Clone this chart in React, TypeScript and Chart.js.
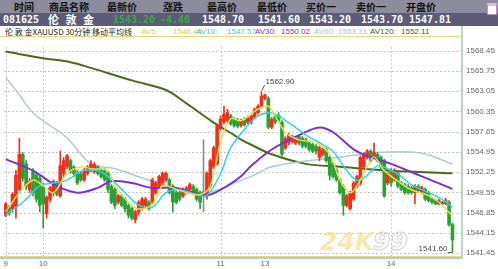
import React, { useEffect, useRef } from "react";
import { Chart, registerables } from "chart.js";

Chart.register(...registerables);

const SLOTS = 134;
const dayIndex = [0, 11, 63, 76, 113];
const dayText = ["9", "10", "11", "13", "14"];
const dayGrid = [0, 11, 63, 113];
const priceTicks = [1541.45, 1544.15, 1546.85, 1549.55, 1552.25, 1554.95, 1557.65, 1560.35, 1563.05, 1565.75, 1568.45];

const headTitles = ["时间", "商品名称", "最新价", "涨跌", "最高价", "最低价", "买价一", "卖价一", "开盘价"];
const headValues = ["081625", "伦 敦 金", "1543.20", "-4.40", "1548.70", "1541.60", "1543.20", "1543.70", "1547.81"];
const legendName = "伦 敦 金XAUUSD 30分钟 移动平均线";
const maNames = ["AV5:", "AV10:", "AV30:", "AV60:", "AV120:"];
const maLast = ["1546.40", "1547.57", "1550.02", "1553.31", "1552.11"];

const opens = [
  1546.53, 1547.60, 1547.38, 1547.60, 1549.94, 1554.63, 1553.36, 1549.94, 1552.29, 1551.86,
  1551.44, 1550.37, 1546.74, 1548.66, 1549.52, 1550.80, 1549.09, 1552.08, 1552.93, 1553.78,
  1552.93, 1552.08, 1551.99, 1551.22, 1552.08, 1552.50, 1552.29, 1552.93, 1552.50, 1552.42,
  1552.08, 1550.37, 1549.94, 1548.24, 1549.09, 1548.66, 1547.81, 1547.38, 1545.89, 1546.96,
  1547.38, 1547.81, 1548.24, 1548.24, 1549.52, 1550.37, 1550.80, 1551.22, 1551.22, 1550.37,
  1549.52, 1549.52, 1549.09, 1549.52, 1549.94, 1550.37, 1549.94, 1549.52, 1549.52, 1549.09,
  1550.37, 1552.93, 1553.36, 1558.05, 1558.90, 1559.11, 1559.75, 1559.33, 1559.24, 1558.47,
  1559.24, 1558.90, 1558.90, 1559.54, 1560.18, 1561.03, 1562.10, 1562.10, 1558.26, 1559.75,
  1559.84, 1558.90, 1555.49, 1556.13, 1556.34, 1556.13, 1556.98, 1556.77, 1556.55, 1556.13,
  1555.91, 1555.70, 1554.21, 1554.63, 1555.27, 1554.21, 1553.36, 1552.50, 1551.22, 1550.37,
  1547.81, 1547.38, 1548.66, 1550.37, 1550.80, 1552.93, 1554.21, 1555.06, 1554.21, 1554.63,
  1554.21, 1553.78, 1550.80, 1552.50, 1551.22, 1552.08, 1550.80, 1550.58, 1550.37, 1550.16,
  1549.52, 1550.37, 1549.52, 1549.94, 1549.52, 1548.66, 1548.45, 1548.02, 1548.24, 1548.02,
  1548.24, 1545.25,
];
const highs = [
  1548.24, 1547.81, 1549.52, 1552.50, 1556.77, 1554.85, 1553.78, 1551.44, 1552.72, 1552.08,
  1551.86, 1550.80, 1549.09, 1550.37, 1551.22, 1551.01, 1555.06, 1554.21, 1554.63, 1554.00,
  1553.14, 1552.50, 1552.29, 1552.72, 1553.14, 1553.78, 1553.57, 1553.14, 1552.72, 1552.72,
  1552.29, 1550.58, 1550.16, 1549.30, 1549.30, 1548.88, 1548.02, 1547.60, 1547.17, 1548.45,
  1548.88, 1548.88, 1548.45, 1551.44, 1551.01, 1551.86, 1552.29, 1552.29, 1551.44, 1550.58,
  1549.73, 1549.73, 1550.16, 1550.37, 1550.80, 1550.58, 1550.16, 1549.73, 1556.55, 1552.29,
  1554.00, 1555.70, 1558.69, 1559.75, 1561.03, 1560.61, 1559.97, 1559.54, 1559.41, 1559.33,
  1559.54, 1559.75, 1559.97, 1560.82, 1561.25, 1562.90, 1562.65, 1562.31, 1559.54, 1559.97,
  1560.18, 1559.11, 1556.98, 1557.41, 1557.19, 1556.98, 1557.19, 1556.98, 1556.77, 1556.34,
  1556.13, 1555.91, 1555.70, 1555.49, 1555.49, 1554.42, 1553.57, 1552.72, 1551.44, 1550.58,
  1549.30, 1549.73, 1551.01, 1551.86, 1554.42, 1554.85, 1555.27, 1555.27, 1556.13, 1554.85,
  1554.42, 1554.00, 1552.29, 1552.72, 1552.72, 1552.29, 1551.01, 1550.80, 1550.58, 1550.37,
  1550.58, 1550.58, 1550.37, 1550.16, 1549.73, 1548.88, 1548.66, 1548.66, 1548.37, 1548.75,
  1548.45, 1545.47,
];
const lows = [
  1546.32, 1546.53, 1546.96, 1546.10, 1549.73, 1551.01, 1549.94, 1549.52, 1549.09, 1548.24,
  1546.96, 1544.83, 1546.10, 1548.24, 1549.09, 1549.09, 1548.88, 1551.65, 1552.72, 1552.08,
  1551.65, 1550.58, 1551.01, 1551.01, 1551.86, 1552.29, 1552.08, 1551.86, 1551.44, 1551.01,
  1549.52, 1548.02, 1547.38, 1548.02, 1547.60, 1546.96, 1546.10, 1545.89, 1545.47, 1546.53,
  1547.17, 1547.60, 1547.17, 1548.02, 1549.30, 1550.16, 1550.58, 1551.01, 1549.30, 1546.96,
  1548.02, 1548.45, 1548.88, 1549.30, 1549.73, 1549.30, 1548.45, 1547.38, 1546.96, 1548.66,
  1550.16, 1552.72, 1553.14, 1557.83, 1558.69, 1558.90, 1558.47, 1558.26, 1558.13, 1558.26,
  1558.39, 1558.69, 1558.69, 1559.33, 1559.97, 1560.82, 1561.89, 1558.05, 1558.05, 1558.69,
  1558.90, 1554.42, 1555.27, 1555.91, 1556.13, 1555.91, 1555.91, 1555.49, 1555.49, 1555.06,
  1554.85, 1554.63, 1553.78, 1554.42, 1553.57, 1551.22, 1551.44, 1551.01, 1549.30, 1546.53,
  1547.60, 1547.17, 1548.45, 1550.16, 1550.58, 1552.72, 1554.00, 1553.57, 1554.00, 1553.57,
  1552.72, 1548.88, 1550.58, 1550.37, 1551.01, 1550.16, 1549.73, 1549.30, 1549.30, 1549.30,
  1548.02, 1549.52, 1549.30, 1548.45, 1548.24, 1548.02, 1547.90, 1547.90, 1547.90, 1547.90,
  1545.04, 1541.60,
];
const closes = [
  1548.02, 1546.74, 1549.30, 1551.86, 1554.63, 1551.44, 1550.37, 1551.01, 1549.52, 1548.66,
  1547.81, 1548.02, 1548.88, 1550.16, 1551.01, 1549.30, 1553.14, 1553.78, 1554.42, 1552.29,
  1552.08, 1550.80, 1551.22, 1552.50, 1552.93, 1553.36, 1553.27, 1552.08, 1551.65, 1551.22,
  1549.94, 1548.24, 1547.81, 1549.09, 1547.81, 1547.38, 1546.53, 1546.10, 1546.96, 1548.24,
  1548.66, 1548.66, 1547.38, 1551.22, 1550.80, 1551.65, 1552.08, 1552.08, 1549.52, 1548.24,
  1548.24, 1548.66, 1549.94, 1550.16, 1550.58, 1549.52, 1548.66, 1548.24, 1549.52, 1552.08,
  1553.78, 1555.49, 1558.47, 1559.33, 1559.97, 1560.18, 1558.69, 1558.47, 1558.39, 1559.11,
  1558.56, 1559.54, 1559.75, 1560.61, 1561.03, 1562.40, 1562.53, 1558.26, 1559.33, 1558.90,
  1559.11, 1554.63, 1556.77, 1557.19, 1556.98, 1556.77, 1556.13, 1555.70, 1555.70, 1555.27,
  1555.06, 1555.06, 1555.49, 1555.27, 1553.78, 1551.86, 1551.65, 1551.22, 1549.52, 1547.81,
  1549.09, 1549.52, 1550.80, 1551.65, 1554.21, 1554.63, 1555.06, 1553.78, 1554.85, 1553.78,
  1552.93, 1549.09, 1552.08, 1550.80, 1552.50, 1550.37, 1549.94, 1549.52, 1549.52, 1549.52,
  1550.37, 1549.73, 1550.16, 1548.66, 1548.45, 1548.24, 1548.02, 1548.45, 1548.02, 1548.45,
  1545.25, 1543.20,
];

const av5: [number, number][] = [
  [0, 1546.95], [4, 1549.51], [8, 1551.18], [11, 1550.41], [14, 1549.51], [18, 1552.07], [22, 1552.97],
  [25, 1552.71], [30, 1552.45], [32, 1550.41], [36, 1548.23], [39, 1547.34], [43, 1547.98], [46, 1550.41],
  [49, 1550.15], [53, 1549.51], [57, 1549.26], [60, 1550.41], [63, 1556.29], [66, 1559.36], [69, 1559.11],
  [74, 1560.64], [77, 1561.03], [79, 1559.75], [82, 1557.57], [86, 1556.55], [91, 1556.17], [95, 1554.63],
  [98, 1551.18], [101, 1549.51], [103, 1550.41], [106, 1552.97], [108, 1554.25], [111, 1552.45],
  [115, 1551.05], [119, 1549.90], [124, 1549.13], [127, 1548.23], [131, 1546.40],
];
const av10: [number, number][] = [
  [0, 1546.57], [5, 1548.23], [10, 1550.41], [14, 1550.79], [18, 1551.18], [22, 1552.33], [27, 1552.45],
  [30, 1551.69], [35, 1549.51], [39, 1547.85], [43, 1547.59], [47, 1549.51], [51, 1549.90], [56, 1549.26],
  [59, 1549.13], [63, 1552.07], [66, 1555.53], [71, 1558.47], [74, 1559.75], [78, 1560.13], [83, 1558.85],
  [88, 1557.19], [92, 1556.17], [96, 1555.01], [100, 1552.45], [103, 1551.18], [106, 1551.82],
  [109, 1553.09], [112, 1552.71], [116, 1551.69], [119, 1550.54], [124, 1549.51], [128, 1548.62],
  [131, 1547.57],
];
const av30: [number, number][] = [
  [0, 1553.99], [8, 1552.45], [15, 1550.41], [21, 1549.51], [27, 1550.15], [31, 1551.05], [37, 1550.79],
  [43, 1550.15], [50, 1550.15], [57, 1549.26], [60, 1549.26], [65, 1550.41], [69, 1551.69], [72, 1553.09],
  [78, 1555.27], [86, 1557.19], [92, 1558.21], [96, 1557.57], [103, 1555.01], [113, 1553.35],
  [122, 1551.69], [131, 1550.02],
];
const av60: [number, number][] = [
  [0, 1564.87], [4, 1562.56], [8, 1560.13], [13, 1558.47], [18, 1556.81], [25, 1553.35], [32, 1552.71],
  [42, 1551.18], [52, 1549.90], [59, 1549.51], [67, 1550.79], [72, 1551.69], [78, 1552.97], [88, 1553.73],
  [98, 1554.25], [110, 1554.89], [122, 1554.76], [131, 1553.31],
];
const av120: [number, number][] = [
  [0, 1568.32], [11, 1567.43], [19, 1566.91], [25, 1566.15], [37, 1564.48], [47, 1563.2], [53, 1561.41],
  [61, 1558.85], [67, 1557.19], [69, 1556.6], [72, 1555.9], [78, 1554.63], [88, 1553.35], [98, 1552.97],
  [113, 1552.45], [131, 1552.11],
];

const RED = "#e8341c";
const GREEN = "#2e9e36";
const GREY = "#8c8c8c";
const maLineColors = ["#e6e04a", "#2ed2e2", "#7b2fd6", "#a9cbd6", "#4a6b1e"];
const maTextColors = ["#d8d048", "#3cc8e0", "#7a2ed0", "#a6c6d2", "#3e5e14"];

export default function App() {
  const ref = useRef<HTMLCanvasElement>(null);

  useEffect(() => {
    document.body.style.margin = "0";
    const n = closes.length;
    const labels = Array.from({ length: SLOTS }, (_, i) => {
      const k = dayIndex.indexOf(i);
      return k >= 0 ? dayText[k] : "";
    });
    const colorOf = (i: number) => (closes[i] > opens[i] ? RED : closes[i] < opens[i] ? GREEN : GREY);
    const bodies = labels.map((_, i) => (i < n ? [opens[i], closes[i]] : null));
    const wicks = labels.map((_, i) => (i < n ? [lows[i], highs[i]] : null));
    const colors = labels.map((_, i) => (i < n ? colorOf(i) : "rgba(0,0,0,0)"));
    const toLine = (pairs: [number, number][]) => {
      const arr: (number | null)[] = new Array(SLOTS).fill(null);
      pairs.forEach(([i, v]) => (arr[i] = v));
      return arr;
    };
    const mas = [av5, av10, av30, av60, av120];
    const widths = [1.5, 1.5, 2, 1.5, 2];

    const deco = {
      id: "deco",
      beforeDatasetsDraw(chart: any) {
        const { ctx, chartArea: a, scales } = chart;
        const x = scales.x, y = scales.y;
        ctx.save();
        ctx.strokeStyle = "#c6c6c6";
        ctx.lineWidth = 1;
        ctx.setLineDash([2, 2]);
        priceTicks.forEach((v) => {
          const py = Math.round(y.getPixelForValue(v)) + 0.5;
          ctx.beginPath();
          ctx.moveTo(a.left, py);
          ctx.lineTo(a.right, py);
          ctx.stroke();
        });
        dayGrid.forEach((i) => {
          const px = Math.round(x.getPixelForValue(i)) + 0.5;
          ctx.beginPath();
          ctx.moveTo(px, a.top);
          ctx.lineTo(px, a.bottom);
          ctx.stroke();
        });
        ctx.setLineDash([]);
        ctx.font = 'italic bold 25px "DejaVu Sans"';
        ctx.fillStyle = "rgba(242,218,120,0.6)";
        ctx.textBaseline = "alphabetic";
        ctx.fillText("24K", 320, 213);
        ctx.strokeStyle = "rgba(205,205,205,0.9)";
        ctx.lineWidth = 1;
        ctx.strokeText("99", 373, 213);
        ctx.restore();
      },
      afterDraw(chart: any) {
        const { ctx, chartArea: a, scales } = chart;
        const x = scales.x, y = scales.y;
        ctx.save();
        ctx.fillStyle = "#e6d874";
        ctx.fillRect(0, a.bottom, a.right, 1);
        ctx.fillStyle = "#a8d0dc";
        ctx.fillRect(0, a.bottom + 1, a.right, 2);
        ctx.fillStyle = "#b8d6c4";
        ctx.fillRect(a.right, 0, 2, a.bottom + 3);
        let hi = 0, lo = 0;
        for (let i = 0; i < n; i++) {
          if (highs[i] > highs[hi]) hi = i;
          if (lows[i] < lows[lo]) lo = i;
        }
        ctx.strokeStyle = "#555";
        ctx.fillStyle = "#444";
        ctx.lineWidth = 1;
        ctx.font = '8px "Liberation Sans"';
        const hx = x.getPixelForValue(hi), hy = y.getPixelForValue(highs[hi]);
        ctx.beginPath();
        ctx.moveTo(hx, hy - 1);
        ctx.lineTo(hx + 3, hy - 7);
        ctx.stroke();
        ctx.textBaseline = "middle";
        ctx.textAlign = "left";
        ctx.fillText(highs[hi].toFixed(2), hx + 4, hy - 10);
        const lx = x.getPixelForValue(lo), ly = y.getPixelForValue(lows[lo]);
        ctx.beginPath();
        ctx.moveTo(lx - 5, Math.round(ly) + 0.5);
        ctx.lineTo(lx, Math.round(ly) + 0.5);
        ctx.stroke();
        ctx.textAlign = "right";
        ctx.textBaseline = "alphabetic";
        ctx.fillText(lows[lo].toFixed(2), lx - 5, ly - 1);
        ctx.restore();
      },
    };

    const chart = new Chart(ref.current as HTMLCanvasElement, {
      type: "bar",
      data: {
        labels,
        datasets: [
          ...mas.map((m, k) => ({
            type: "line" as const,
            data: toLine(m),
            borderColor: maLineColors[k],
            borderWidth: widths[k],
            pointRadius: 0,
            spanGaps: true,
            tension: 0.35,
            fill: false,
            order: k === 4 || k === 3 ? 4 : 0,
          })),
          {
            type: "bar" as const,
            data: wicks as any,
            backgroundColor: colors,
            barThickness: 1,
            grouped: false,
            borderWidth: 0,
            order: 2,
          },
          {
            type: "bar" as const,
            data: bodies as any,
            backgroundColor: colors,
            barThickness: 3,
            minBarLength: 1,
            grouped: false,
            borderWidth: 0,
            order: 1,
          },
        ],
      },
      options: {
        animation: false,
        responsive: false,
        devicePixelRatio: 1,
        events: [],
        layout: { padding: { top: 1, left: 4, right: 0, bottom: 0 } },
        plugins: { legend: { display: false }, tooltip: { enabled: false } },
        scales: {
          x: {
            offset: true,
            grid: { display: false, drawTicks: false, tickLength: 0 },
            border: { display: false },
            afterFit: (s: any) => {
              s.height = 13;
            },
            ticks: {
              autoSkip: false,
              maxRotation: 0,
              padding: 3,
              color: "#666",
              font: { family: "Liberation Sans", size: 8 },
              callback: (_v: any, i: number) => labels[i],
            },
          },
          y: {
            position: "right",
            min: 1541.07,
            max: 1568.96,
            grid: { display: false, drawTicks: false, tickLength: 0 },
            border: { display: false },
            afterBuildTicks: (s: any) => {
              s.ticks = priceTicks.map((v) => ({ value: v }));
            },
            afterFit: (s: any) => {
              s.width = 37;
            },
            ticks: {
              padding: 5,
              color: "#666",
              font: { family: "Liberation Sans", size: 8 },
              callback: (v: any) => Number(v).toFixed(2),
            },
          },
        },
      },
      plugins: [deco],
    });
    return () => chart.destroy();
  }, []);

  const titleCenters = [24, 69, 122, 173, 222, 272, 321, 371, 421];
  const valueCenters = [21, 72, 134, 175, 223, 279, 330, 382, 430];
  const valueColors = ["#fff", "#fff", "#3aa846", "#3aa846", "#fff", "#fff", "#fff", "#fff", "#fff"];
  const maNameLeft = [141, 196, 255, 314, 370];
  const maValLeft = [173, 227, 281, 338, 401];

  return (
    <div style={{ position: "fixed", left: 0, top: 0, width: 498, height: 269, background: "#fff", overflow: "hidden" }}>
      <div style={{ position: "absolute", left: 0, top: 0, width: 498, height: 13, background: "#8c8c9c" }} />
      <div style={{ position: "absolute", left: 0, top: 13, width: 498, height: 13, background: "#5c5c78" }} />
      {headTitles.map((t, i) => (
        <div
          key={"t" + i}
          style={{
            position: "absolute",
            top: 0,
            left: titleCenters[i] - 40,
            width: 80,
            textAlign: "center",
            font: 'bold 10px "Noto Sans CJK SC"',
            lineHeight: "13px",
            color: "#111",
          }}
        >
          {t}
        </div>
      ))}
      {headValues.map((t, i) => (
        <div
          key={"v" + i}
          style={{
            position: "absolute",
            top: 13,
            left: valueCenters[i] - 40,
            width: 80,
            textAlign: "center",
            font: i === 1 ? 'bold 11px "Noto Sans CJK SC"' : 'bold 10px "DejaVu Sans Mono"',
            letterSpacing: i === 1 ? "2px" : "0px",
            lineHeight: "13px",
            color: valueColors[i],
          }}
        >
          {t}
        </div>
      ))}
      <div
        style={{
          position: "absolute",
          left: 487,
          top: 3,
          width: 8,
          height: 8,
          background: "#fff",
          border: "1px solid #b890c0",
          borderTop: "3px solid #e8b8d8",
        }}
      />
      <div
        style={{
          position: "absolute",
          left: 0,
          top: 26,
          width: 461,
          height: 10,
          borderRight: "2px solid #b8d6c4",
          borderBottom: "1px solid #e6d874",
          background: "#fff",
        }}
      />
      <div
        style={{
          position: "absolute",
          left: 5,
          top: 26,
          font: '8px "Noto Sans CJK SC"',
          lineHeight: "11px",
          color: "#222",
          whiteSpace: "pre",
        }}
      >
        {legendName}
      </div>
      {maNames.map((t, i) => (
        <React.Fragment key={"m" + i}>
          <div
            style={{
              position: "absolute",
              left: maNameLeft[i],
              top: 26,
              font: '8px "Liberation Sans"',
              lineHeight: "11px",
              color: maTextColors[i],
            }}
          >
            {t}
          </div>
          <div
            style={{
              position: "absolute",
              left: maValLeft[i],
              top: 26,
              font: '8px "Liberation Sans"',
              lineHeight: "11px",
              color: maTextColors[i],
            }}
          >
            {maLast[i]}
          </div>
        </React.Fragment>
      ))}
      <canvas ref={ref} width={498} height={232} style={{ position: "absolute", left: 0, top: 37, width: 498, height: 232 }} />
    </div>
  );
}
